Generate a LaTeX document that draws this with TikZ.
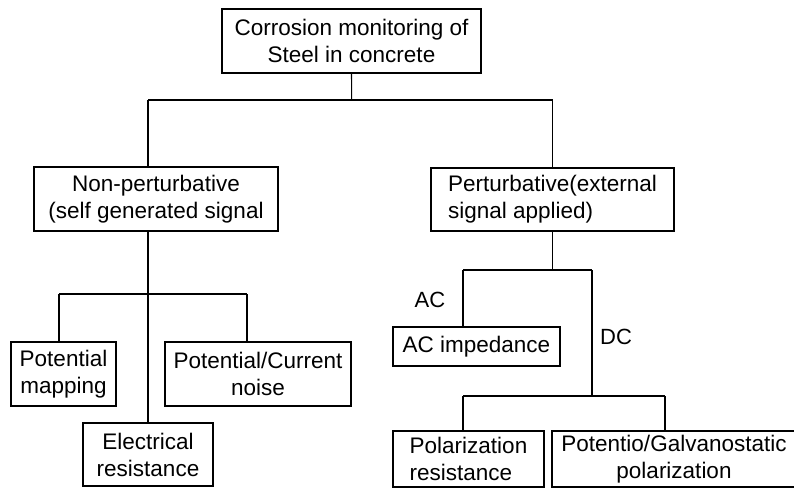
\documentclass[tikz,border=0pt]{standalone}
\usepackage{fontspec}
\setmainfont{Liberation Sans}
\begin{document}
\begin{tikzpicture}[x=1pt,y=-1pt,
  box/.style={draw=black,line width=1.1pt,inner sep=0pt,align=center,
    font=\fontsize{22.5}{27}\selectfont},
  conn/.style={draw=black,line width=1.1pt},
  lbl/.style={inner sep=0pt,font=\fontsize{22}{26}\selectfont}]
\useasboundingbox (0,0) rectangle (794,488);
% boxes
\node[box,minimum width=259pt,minimum height=64pt] (top) at (351.5,41) {Corrosion monitoring of\\Steel in concrete};
\node[box,minimum width=244pt,minimum height=64pt] (np) at (156,199) {Non-perturbative\\(self generated signal};
\node[box,minimum width=243pt,minimum height=63pt,align=left] (p) at (552.5,199.5) {Perturbative(external\\signal applied)};
\node[box,minimum width=105pt,minimum height=64pt] (pm) at (63.5,374) {Potential\\mapping};
\node[box,minimum width=186pt,minimum height=64pt] (pcn) at (258,374) {Potential/Current\\noise};
\node[box,minimum width=130pt,minimum height=63pt] (er) at (148,454.5) {Electrical\\resistance};
\node[box,minimum width=167pt,minimum height=39pt] (aci) at (476.5,346.5) {AC impedance};
\node[box,minimum width=151pt,minimum height=56pt,align=left] (pr) at (468.5,459) {Polarization\\resistance};
\node[box,minimum width=244pt,minimum height=56pt] (pg) at (674,459) {Potentio/Galvanostatic\\polarization};
% labels
\node[lbl] (ac) at (430,300) {AC};
\node[lbl] (dc) at (616,337) {DC};
% junctions
\coordinate (j0) at (351.7,100);
\coordinate (jl) at (148,100);
\coordinate (jr) at (552.7,100);
\coordinate (k1) at (148,294);
\coordinate (k1l) at (59,294);
\coordinate (k1r) at (247,294);
\coordinate (k2) at (552.7,270);
\coordinate (k2l) at (463,270);
\coordinate (k2r) at (592,270);
\coordinate (k3) at (592,396);
\coordinate (k3l) at (463,396);
\coordinate (k3r) at (665,396);
% connectors
\draw[conn] (top.south) -- (j0);
\draw[conn] (jl) -- (jr);
\draw[conn] (jl) -- (jl |- np.north);
\draw[conn] (jr) -- (jr |- p.north);
\draw[conn] (jl |- np.south) -- (er.north);
\draw[conn] (k1l) -- (k1r);
\draw[conn] (k1l) -- (k1l |- pm.north);
\draw[conn] (k1r) -- (k1r |- pcn.north);
\draw[conn] (jr |- p.south) -- (k2);
\draw[conn] (k2l) -- (k2r);
\draw[conn] (k2l) -- (k2l |- aci.north);
\draw[conn] (k2r) -- (k3);
\draw[conn] (k3l) -- (k3r);
\draw[conn] (k3l) -- (k3l |- pr.north);
\draw[conn] (k3r) -- (k3r |- pg.north);
\end{tikzpicture}
\end{document}
